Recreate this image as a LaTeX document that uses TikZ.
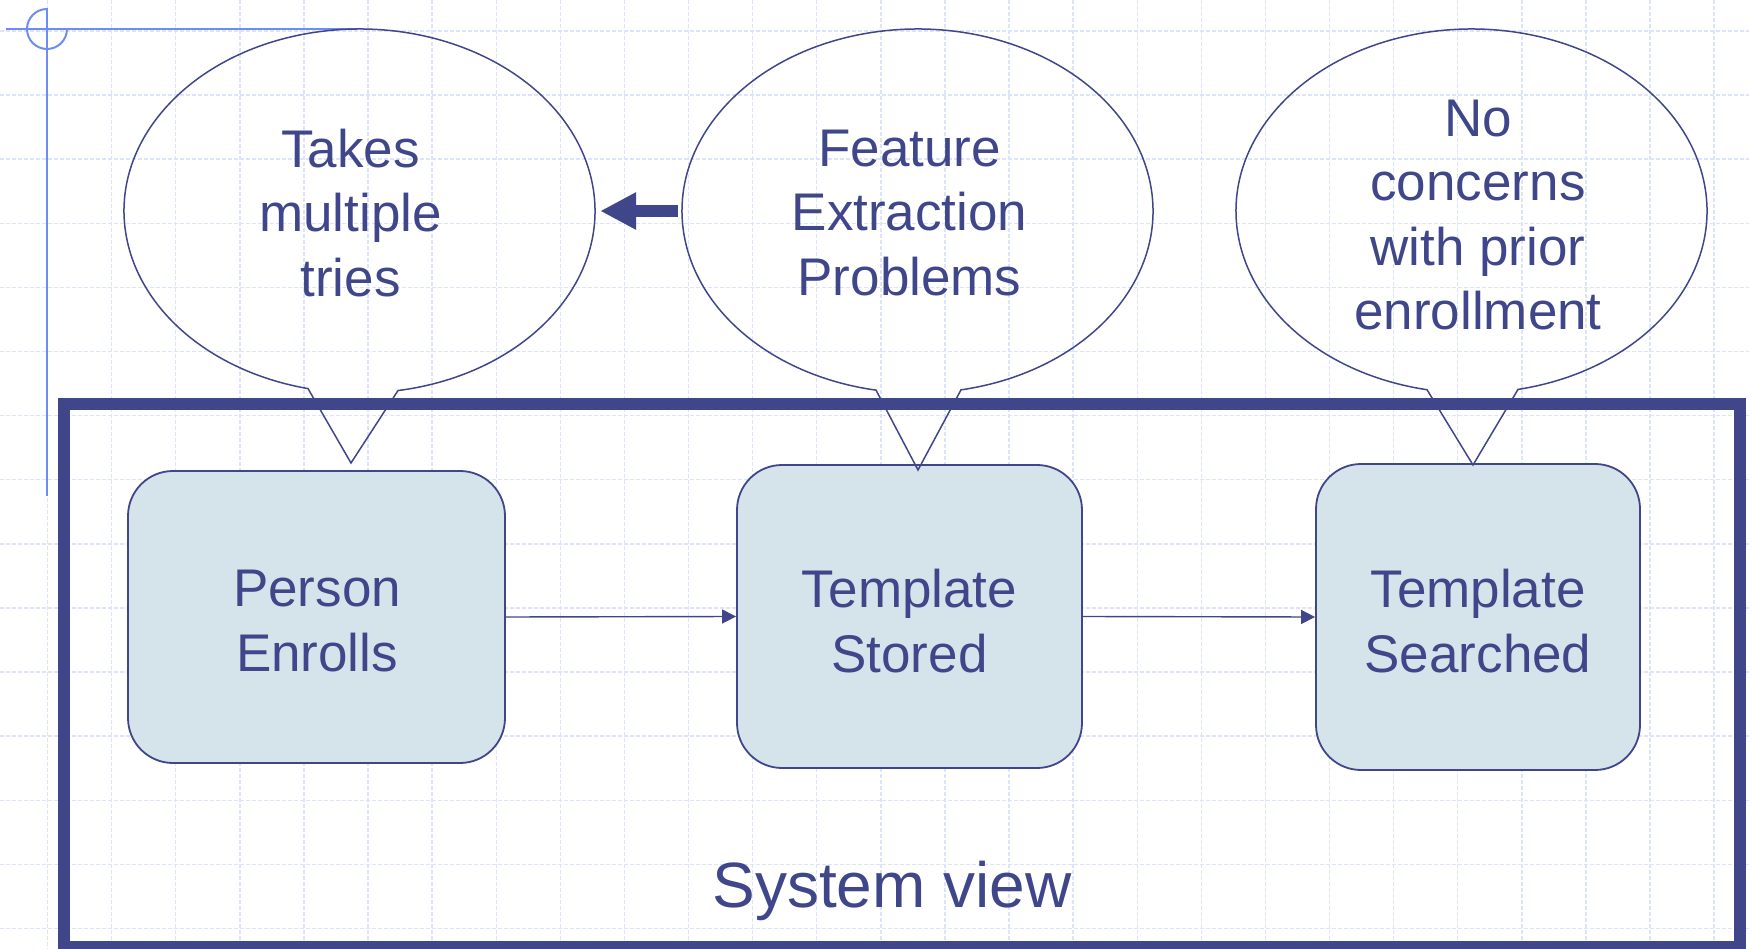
\documentclass[tikz,border=0pt]{standalone}
\usepackage{fontspec}
\setmainfont{Liberation Sans}
\usetikzlibrary{arrows.meta,shapes.geometric,calc}
\definecolor{ink}{RGB}{64,70,138}
\definecolor{boxfill}{RGB}{213,227,234}
\definecolor{gridc}{RGB}{220,228,251}
\definecolor{cross}{RGB}{110,140,245}
\tikzset{
  gridline/.style={gridc, line width=1.4pt, dash pattern=on 4pt off 2pt},
  stepbox/.style={draw=ink, line width=1.8pt, fill=boxfill, rounded corners=45pt,
    inner sep=0pt},
  label text/.style={text=ink, align=center, font=\fontsize{53}{64.5}\selectfont},
  bubble/.style={ellipse, inner sep=0pt, minimum width=471pt, minimum height=364pt},
  bubbleline/.style={draw=ink, line width=1.5pt, line join=miter},
  flow/.style={draw=ink, line width=1.4pt, -{Triangle[length=14pt,width=14pt]}},
  bigarrow/.style={draw=ink, line width=12pt, -{Triangle[length=36pt,width=35pt]}},
}
\begin{document}
\begin{tikzpicture}[x=1pt,y=-1pt]
\useasboundingbox (0,0) rectangle (1749,949);
% grid
\foreach \k in {0,...,26} \draw[gridline] ({47.5+64.1*\k},0) -- ({47.5+64.1*\k},949);
\foreach \k in {0,...,14} \draw[gridline] (0,{31+64.1*\k}) -- (1749,{31+64.1*\k});
% crosshair
\draw[cross, line width=2pt] (6,29) -- (357,29);
\draw[cross, line width=2pt] (47,8) -- (47,496);
\draw[cross, line width=2pt] (47,9) arc[start angle=90, end angle=360, radius=20pt];
% system frame
\node[draw=ink, line width=11.5pt, inner sep=0pt, minimum width=1676pt, minimum height=543pt] (sys) at (902,675.5) {};
\node[text=ink, font=\fontsize{64}{70}\selectfont] (sysl) at (892,891) {System view};
% boxes
\node[stepbox, minimum width=377pt, minimum height=292pt] (b1) at (316.5,617) {};
\node[stepbox, minimum width=345pt, minimum height=303pt] (b2) at (909.5,616.5) {};
\node[stepbox, minimum width=324pt, minimum height=306pt] (b3) at (1478,617) {};
\node[label text] (b1t) at (317,621) {Person\\Enrolls};
\node[label text] (b2t) at (909.5,621) {Template\\Stored};
\node[label text] (b3t) at (1478,621) {Template\\Searched};
\draw[flow] (b1.east) -- (b2.west);
\draw[flow] (b2.east) -- (b3.west);
% bubbles
\node[bubble] (e1) at (359.5,211) {};
\node[bubble] (e2) at (917.5,211) {};
\node[bubble] (e3) at (1471.5,211) {};
\node[label text] (e1t) at (350.5,213) {Takes\\multiple\\tries};
\node[label text] (e2t) at (909.5,213) {Feature\\Extraction\\Problems};
\node[label text] (e3t) at (1478,215) {No\\concerns\\with prior\\enrollment};
% bubble outlines with tails
\foreach \e/\dl/\dr/\tx/\ty in {e1/-51.5/38.5/-8.5/463, e2/-41.5/43.5/0.5/470, e3/-44.5/46.5/1.5/465}{
  \coordinate (\e tl) at ($(\e.center)+(\dl,{182*sin(acos(\dl/235.5))})$);
  \coordinate (\e tr) at ($(\e.center)+(\dr,{182*sin(acos(\dr/235.5))})$);
  \coordinate (\e tip) at ($(\e.center|-0,\ty)+(\tx,0)$);
  \draw[bubbleline] (\e tr) arc[start angle={-acos(\dr/235.5)}, end angle={360-acos(\dl/235.5)}, x radius=235.5pt, y radius=182pt] -- (\e tip) -- cycle;
}
% thick arrow between bubbles
\draw[bigarrow] ([xshift=-4pt]e2.west) -- ([xshift=5pt]e1.east);
\end{tikzpicture}
\end{document}
